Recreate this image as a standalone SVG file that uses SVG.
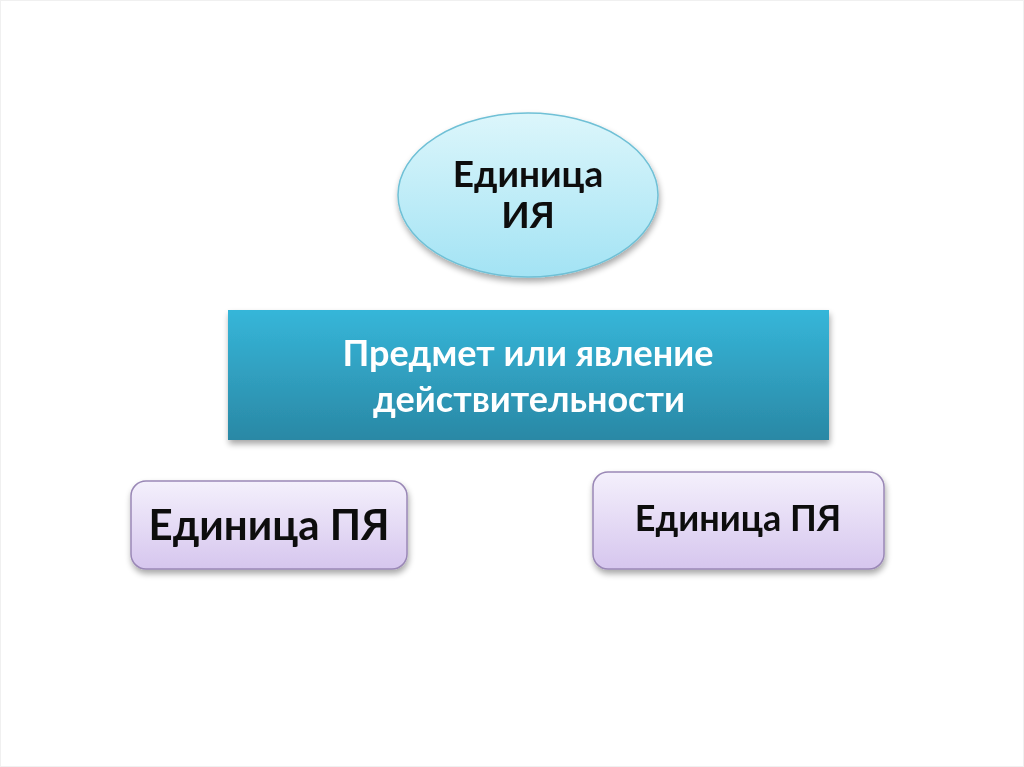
<svg xmlns="http://www.w3.org/2000/svg" width="1024" height="767" viewBox="0 0 1024 767">
<defs>
<linearGradient id="gEll" x1="0" y1="0" x2="0" y2="1">
<stop offset="0" stop-color="#dcf6fb"/>
<stop offset="1" stop-color="#a3e3f4"/>
</linearGradient>
<linearGradient id="gRect" x1="0" y1="0" x2="0" y2="1">
<stop offset="0" stop-color="#36b6d9"/>
<stop offset="1" stop-color="#2a88a5"/>
</linearGradient>
<linearGradient id="gBox" x1="0" y1="0" x2="0" y2="1">
<stop offset="0" stop-color="#f4f0fc"/>
<stop offset="1" stop-color="#d6c6ee"/>
</linearGradient>
<filter id="sh" x="-10%" y="-10%" width="120%" height="130%">
<feGaussianBlur in="SourceAlpha" stdDeviation="3"/>
<feOffset dx="1" dy="4" result="o"/>
<feComponentTransfer><feFuncA type="linear" slope="0.35"/></feComponentTransfer>
<feMerge><feMergeNode/><feMergeNode in="SourceGraphic"/></feMerge>
</filter>
</defs>
<style>
text{font-family:Lato,"Open Sans","DejaVu Sans",sans-serif;font-weight:bold;text-anchor:middle}
.dark{fill:#111}
.light{fill:#ffffff}
.box{fill:url(#gBox);stroke:#9a88b6;stroke-width:1.5}
</style>
<rect x="0.5" y="0.5" width="1023" height="766" fill="#ffffff" stroke="#f0f0f0"/>
<g id="connectors"></g>
<g id="node-iya" filter="url(#sh)">
<ellipse cx="528" cy="195" rx="130" ry="82" fill="url(#gEll)" stroke="#6fc0d6" stroke-width="1.5"/>
<text class="dark" x="528" y="187" font-size="37">Единица</text>
<text class="dark" x="528" y="228" font-size="37">ИЯ</text>
</g>
<g id="node-predmet" filter="url(#sh)">
<rect x="228" y="310" width="601" height="130" fill="url(#gRect)"/>
<text class="light" x="528" y="366" font-size="36">Предмет или явление</text>
<text class="light" x="529" y="412" font-size="36">действительности</text>
</g>
<g id="node-pya-left" filter="url(#sh)">
<rect class="box" x="131" y="481" width="276" height="88" rx="15"/>
<text class="dark" x="269" y="540" font-size="42">Единица ПЯ</text>
</g>
<g id="node-pya-right" filter="url(#sh)">
<rect class="box" x="593" y="472" width="291" height="97" rx="15"/>
<text class="dark" x="738" y="531" font-size="36">Единица ПЯ</text>
</g>
</svg>
